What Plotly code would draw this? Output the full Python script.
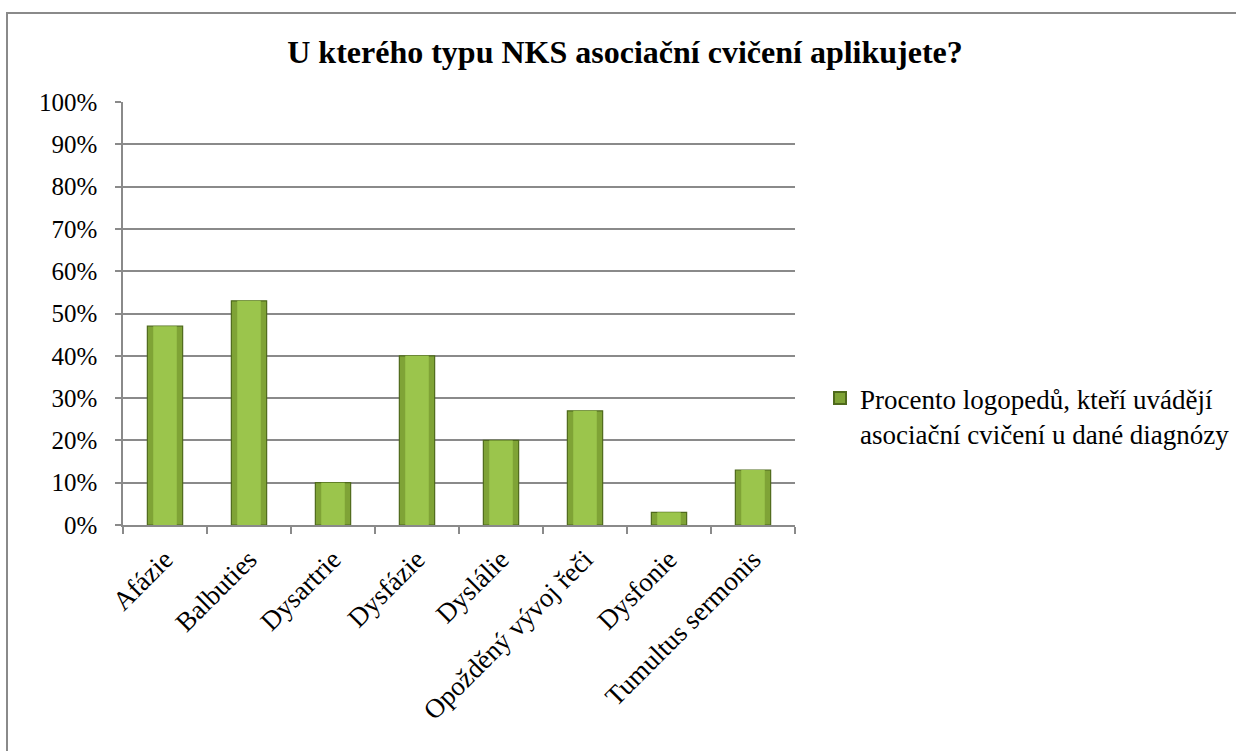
import plotly.graph_objects as go

categories = ["Afázie", "Balbuties", "Dysartrie", "Dysfázie", "Dyslálie",
              "Opožděný vývoj řeči", "Dysfonie", "Tumultus sermonis"]
values = [47, 53, 10, 40, 20, 27, 3, 13]
series_name = "Procento logopedů, kteří uvádějí<br>asociační cvičení u dané diagnózy"
title_text = "U kterého typu NKS asociační cvičení aplikujete?"
y_ticks = [0, 10, 20, 30, 40, 50, 60, 70, 80, 90, 100]
y_tick_labels = [f"{v}%" for v in y_ticks]

FONT = "Liberation Serif, Times New Roman, serif"
GRID = "#8a8a8a"

fig = go.Figure()
fig.add_trace(go.Bar(
    x=categories, y=values, name=series_name, width=0.42,
    marker=dict(color="#7fa336", line=dict(color="#4f6a1c", width=1.2)),
    showlegend=True,
))
fig.add_trace(go.Bar(
    x=categories, y=values, name="", width=0.28,
    marker=dict(color="#9bc54c", line=dict(width=0)),
    showlegend=False, hoverinfo="skip",
))

L, R, T, B = 123, 441, 102, 226
W, H = 1236, 751
pw = W - L - R
ph = H - T - B

fig.update_layout(
    width=W, height=H,
    margin=dict(l=L, r=R, t=T, b=B, autoexpand=False),
    paper_bgcolor="white", plot_bgcolor="white",
    barmode="overlay",
    title=dict(text=f"<b>{title_text}</b>", x=625 / W, xanchor="center",
               y=1 - 52 / H, yanchor="middle",
               font=dict(family=FONT, size=32, color="black")),
    font=dict(family=FONT, size=25, color="black"),
    xaxis=dict(showline=True, linecolor=GRID, linewidth=1.5,
               ticks="outside", ticklen=7, tickcolor=GRID, tickwidth=1.5,
               tickson="boundaries", tickangle=-45, ticklabelstandoff=6,
               tickfont=dict(family=FONT, size=27, color="black")),
    yaxis=dict(range=[0, 100], tickvals=y_ticks, ticktext=y_tick_labels,
               showline=True, linecolor=GRID, linewidth=1.5,
               ticks="outside", ticklen=6, tickcolor=GRID, tickwidth=1.5,
               showgrid=True, gridcolor=GRID, gridwidth=1.5, zeroline=False,
               ticklabelstandoff=13,
               tickfont=dict(family=FONT, size=25, color="black")),
    legend=dict(x=(820 - L) / pw, y=(525 - 416) / ph, xanchor="left", yanchor="middle",
                font=dict(family=FONT, size=27, color="black"), valign="top",
                bgcolor="rgba(0,0,0,0)", itemsizing="constant"),
    shapes=[dict(type="rect", xref="paper", yref="paper",
                 x0=(7 - L) / pw, x1=(1260 - L) / pw,
                 y0=-(770 - 525) / ph, y1=1 + (T - 13) / ph,
                 line=dict(color="#8a8a8a", width=2), fillcolor="rgba(0,0,0,0)",
                 layer="below")],
)

fig.write_html("out.html", config={"displayModeBar": False},
               post_script="document.body.style.margin='0px';")
